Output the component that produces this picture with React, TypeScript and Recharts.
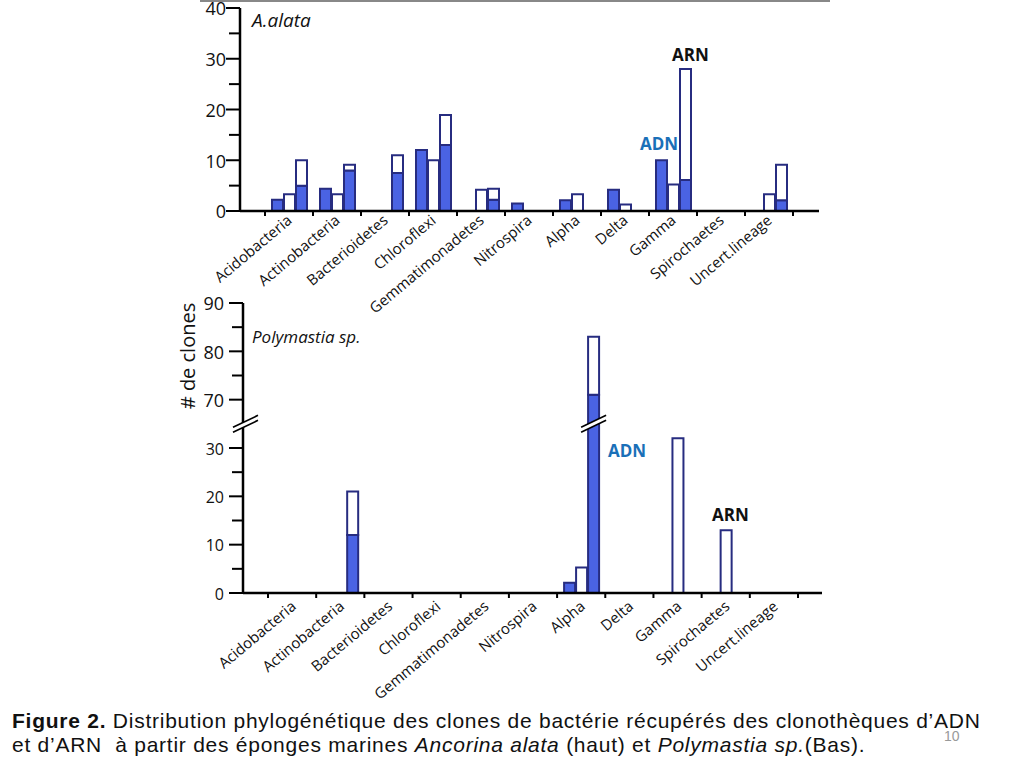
import { BarChart, Bar, XAxis, YAxis } from "recharts";

const categories = [
  "Acidobacteria",
  "Actinobacteria",
  "Bacterioidetes",
  "Chloroflexi",
  "Gemmatimonadetes",
  "Nitrospira",
  "Alpha",
  "Delta",
  "Gamma",
  "Spirochaetes",
  "Uncert.lineage",
];

// A. alata (top)
const alataBlue = [2.2, 4.4, 0, 12, 0, 1.5, 2.1, 4.2, 10, 0, 0];
const alataWhite = [3.3, 3.3, 0, 10, 4.2, 0, 3.3, 1.3, 5.2, 0, 3.3];
const alataPairBlue = [5, 8, 7.5, 13, 2.2, 0, 0, 0, 6.1, 0, 2.1];
const alataPairTotal = [10, 9.1, 11, 18.9, 4.4, 0, 0, 0, 28, 0, 9.1];

// Polymastia sp. (bottom)
const polyBlue = [0, 0, 0, 0, 0, 0, 2.1, 0, 0, 0, 0];
const polyWhite = [0, 0, 0, 0, 0, 0, 5.3, 0, 32, 13, 0];
const polyPairBlue = [0, 12, 0, 0, 0, 0, 71, 0, 0, 0, 0];
const polyPairTotal = [0, 21, 0, 0, 0, 0, 83, 0, 0, 0, 0];

const alataTicks = [0, 5, 10, 15, 20, 25, 30, 35, 40];
const polyTicks = [0, 5, 10, 15, 20, 25, 30, 40, 45, 50, 55, 60];

const NAVY = "#272c80";
const BLUE = "#4a63e3";
const FONT = "'Open Sans', sans-serif";
const SANS = "'Liberation Sans', Arial, sans-serif";

// broken axis: 30..70 squeezed, break drawn at 35
const GAP = 30;
const BREAK_AT = 35;
const cut = (v: number) => (v >= 70 ? v - GAP : v);

const alataData = categories.map((name, i) => ({
  name,
  blue: alataBlue[i],
  white: alataWhite[i],
  pairBlue: alataPairBlue[i],
  pairRest: alataPairTotal[i] - alataPairBlue[i],
}));

const polyData = categories.map((name, i) => ({
  name,
  blue: cut(polyBlue[i]),
  white: cut(polyWhite[i]),
  pairBlue: cut(polyPairBlue[i]),
  pairRest: cut(polyPairTotal[i]) - cut(polyPairBlue[i]),
  broken: polyPairBlue[i] > BREAK_AT,
}));

// layout
const topMargin = { top: 8, right: 205, bottom: 29, left: 200 };
const botTop = 280;
const botH = 440;
const botXH = 120;
const botMargin = { top: 23, right: 202, bottom: 7, left: 203 };
const botPlotTop = botTop + botMargin.top;
const botPlotH = botH - botMargin.top - botMargin.bottom - botXH;
const bandTop = (1024 - topMargin.left - 40 - topMargin.right - 51) / categories.length;
const bandBot = (1024 - botMargin.left - 40 - botMargin.right - 49) / categories.length;

function makeXTick(band: number, dx: number, dy: number) {
  return (props: any) => {
    const { x, y, payload, index } = props;
    const left = x - band / 2;
    return (
      <g>
        <line x1={left} x2={left} y1={y} y2={y + 5} stroke="#000" strokeWidth={2} />
        {index === categories.length - 1 && (
          <line x1={x + band / 2} x2={x + band / 2} y1={y} y2={y + 5} stroke="#000" strokeWidth={2} />
        )}
        <text
          transform={`translate(${x + dx},${y + dy}) rotate(-40)`}
          textAnchor="end"
          fontSize={15}
          fontFamily={FONT}
          fill="#111"
        >
          {payload.value}
        </text>
      </g>
    );
  };
}

function makeYTick(label: (v: number) => number, size: (v: number) => number, gap: number) {
  return (props: any) => {
    const { x, y, payload } = props;
    const v = payload.value;
    const major = v % 10 === 0;
    return (
      <g>
        <line x1={x} x2={x - (major ? 14 : 11)} y1={y} y2={y} stroke="#000" strokeWidth={2} />
        {major && (
          <text
            x={x - 14 - gap}
            y={y + 1}
            dy="0.36em"
            textAnchor="end"
            fontSize={size(v)}
            fontFamily={FONT}
            fill="#111"
          >
            {label(v)}
          </text>
        )}
      </g>
    );
  };
}

function BreakMark({ cx, cy, w }: { cx: number; cy: number; w: number }) {
  const s = 0.48;
  const h = w / 2;
  const a1 = { x: cx - h, y: cy + 2.5 + h * s };
  const a2 = { x: cx + h, y: cy + 2.5 - h * s };
  const b1 = { x: cx - h, y: cy - 2.5 + h * s };
  const b2 = { x: cx + h, y: cy - 2.5 - h * s };
  return (
    <g>
      <polygon points={`${a1.x},${a1.y} ${a2.x},${a2.y} ${b2.x},${b2.y} ${b1.x},${b1.y}`} fill="#fff" />
      <line x1={a1.x} y1={a1.y} x2={a2.x} y2={a2.y} stroke="#000" strokeWidth={1.6} />
      <line x1={b1.x} y1={b1.y} x2={b2.x} y2={b2.y} stroke="#000" strokeWidth={1.6} />
    </g>
  );
}

const BrokenBar = (props: any) => {
  const { x, y, width, height, payload } = props;
  if (!height) return <g />;
  const yb = y + height * (1 - BREAK_AT / payload.pairBlue);
  return (
    <g>
      <rect x={x} y={y} width={width} height={height} fill={BLUE} stroke={NAVY} strokeWidth={2} />
      {payload.broken && <BreakMark cx={x + width / 2} cy={yb} w={25} />}
    </g>
  );
};

function Bars({ broken }: { broken?: boolean }) {
  return [
    <Bar key="b" dataKey="blue" stackId="s1" fill={BLUE} stroke={NAVY} strokeWidth={2} isAnimationActive={false} />,
    <Bar key="w" dataKey="white" stackId="s2" fill="#fff" stroke={NAVY} strokeWidth={2} isAnimationActive={false} />,
    <Bar
      key="pb"
      dataKey="pairBlue"
      stackId="s3"
      fill={BLUE}
      stroke={NAVY}
      strokeWidth={2}
      shape={broken ? BrokenBar : undefined}
      isAnimationActive={false}
    />,
    <Bar key="pr" dataKey="pairRest" stackId="s3" fill="#fff" stroke={NAVY} strokeWidth={2} isAnimationActive={false} />,
  ];
}

export default function App() {
  const breakY = botPlotTop + botPlotH * (1 - BREAK_AT / 60);
  const axisX = botMargin.left + 40;
  return (
    <div style={{ position: "absolute", left: 0, top: 0, width: 1024, height: 768, background: "#fff" }}>
      <div style={{ position: "absolute", left: 0, top: 0 }}>
        <BarChart width={1024} height={330} data={alataData} margin={topMargin} barSize={11} barGap={1}>
          <XAxis
            dataKey="name"
            interval={0}
            height={90}
            padding={{ left: 25, right: 26 }}
            axisLine={{ stroke: "#000", strokeWidth: 2.5 }}
            tickLine={false}
            tickSize={0}
            tickMargin={0}
            tick={makeXTick(bandTop, 4, 11)}
          />
          <YAxis
            width={40}
            domain={[0, 40]}
            ticks={alataTicks}
            interval={0}
            axisLine={{ stroke: "#000", strokeWidth: 2.5 }}
            tickLine={false}
            tickSize={0}
            tickMargin={0}
            tick={makeYTick((v) => v, () => 18, 0)}
          />
          <YAxis yAxisId="frame" orientation="right" width={0} tick={false} tickLine={false} axisLine={{ stroke: "#555", strokeWidth: 2 }} />
          {Bars({})}
        </BarChart>
      </div>

      <div style={{ position: "absolute", left: 0, top: botTop }}>
        <BarChart width={1024} height={botH} data={polyData} margin={botMargin} barSize={11} barGap={1}>
          <XAxis
            dataKey="name"
            interval={0}
            height={botXH}
            padding={{ left: 25, right: 24 }}
            axisLine={{ stroke: "#000", strokeWidth: 2.5 }}
            tickLine={false}
            tickSize={0}
            tickMargin={0}
            tick={makeXTick(bandBot, 5, 15)}
          />
          <YAxis
            width={40}
            domain={[0, 60]}
            ticks={polyTicks}
            interval={0}
            axisLine={{ stroke: "#000", strokeWidth: 2.5 }}
            tickLine={false}
            tickSize={0}
            tickMargin={0}
            tick={makeYTick((v) => (v > BREAK_AT ? v + GAP : v), (v) => (v > BREAK_AT ? 18 : 16), 5)}
          />
          <YAxis yAxisId="frame" orientation="right" width={0} tick={false} tickLine={false} axisLine={{ stroke: "#555", strokeWidth: 2 }} />
          {Bars({ broken: true })}
        </BarChart>
      </div>

      <svg
        width={1024}
        height={768}
        style={{ position: "absolute", left: 0, top: 0, pointerEvents: "none" }}
      >
        <line x1={200} x2={830} y1={1} y2={1} stroke="#888" strokeWidth={2} />
        <BreakMark cx={axisX + 2.5} cy={breakY} w={25} />

        <text x={252} y={27} fontFamily={FONT} fontStyle="italic" fontSize={19} fill="#111">A.alata</text>
        <text x={252} y={343} fontFamily={FONT} fontStyle="italic" fontSize={17} fill="#111">Polymastia sp.</text>

        <text x={672} y={61} fontFamily={FONT} fontWeight="bold" fontSize={17} fill="#111">ARN</text>
        <text x={640} y={150} fontFamily={FONT} fontWeight="bold" fontSize={17} fill="#1a70b8">ADN</text>
        <text x={608} y={457} fontFamily={FONT} fontWeight="bold" fontSize={17} fill="#1a70b8">ADN</text>
        <text x={712} y={521} fontFamily={FONT} fontWeight="bold" fontSize={17} fill="#111">ARN</text>

        <text
          transform="translate(195,356) rotate(-90)"
          textAnchor="middle"
          fontFamily={FONT}
          fontSize={20}
          fill="#111"
        >
          # de clones
        </text>

        <text x={12} y={728} fontFamily={SANS} fontSize={21} letterSpacing={0.75} fill="#111" style={{ whiteSpace: "pre" }}>
          <tspan fontWeight="bold">Figure 2.</tspan> Distribution phylogénétique des clones de bactérie récupérés des clonothèques d’ADN
        </text>
        <text x={12} y={752} fontFamily={SANS} fontSize={21} letterSpacing={0.75} fill="#111" style={{ whiteSpace: "pre" }}>
          {"et d’ARN  à partir des éponges marines "}
          <tspan fontStyle="italic">Ancorina alata</tspan>
          {" (haut) et "}
          <tspan fontStyle="italic">Polymastia sp.</tspan>
          {"(Bas)."}
        </text>
        <text x={944} y={741} fontFamily={SANS} fontSize={14} fill="#999">10</text>
      </svg>
    </div>
  );
}
